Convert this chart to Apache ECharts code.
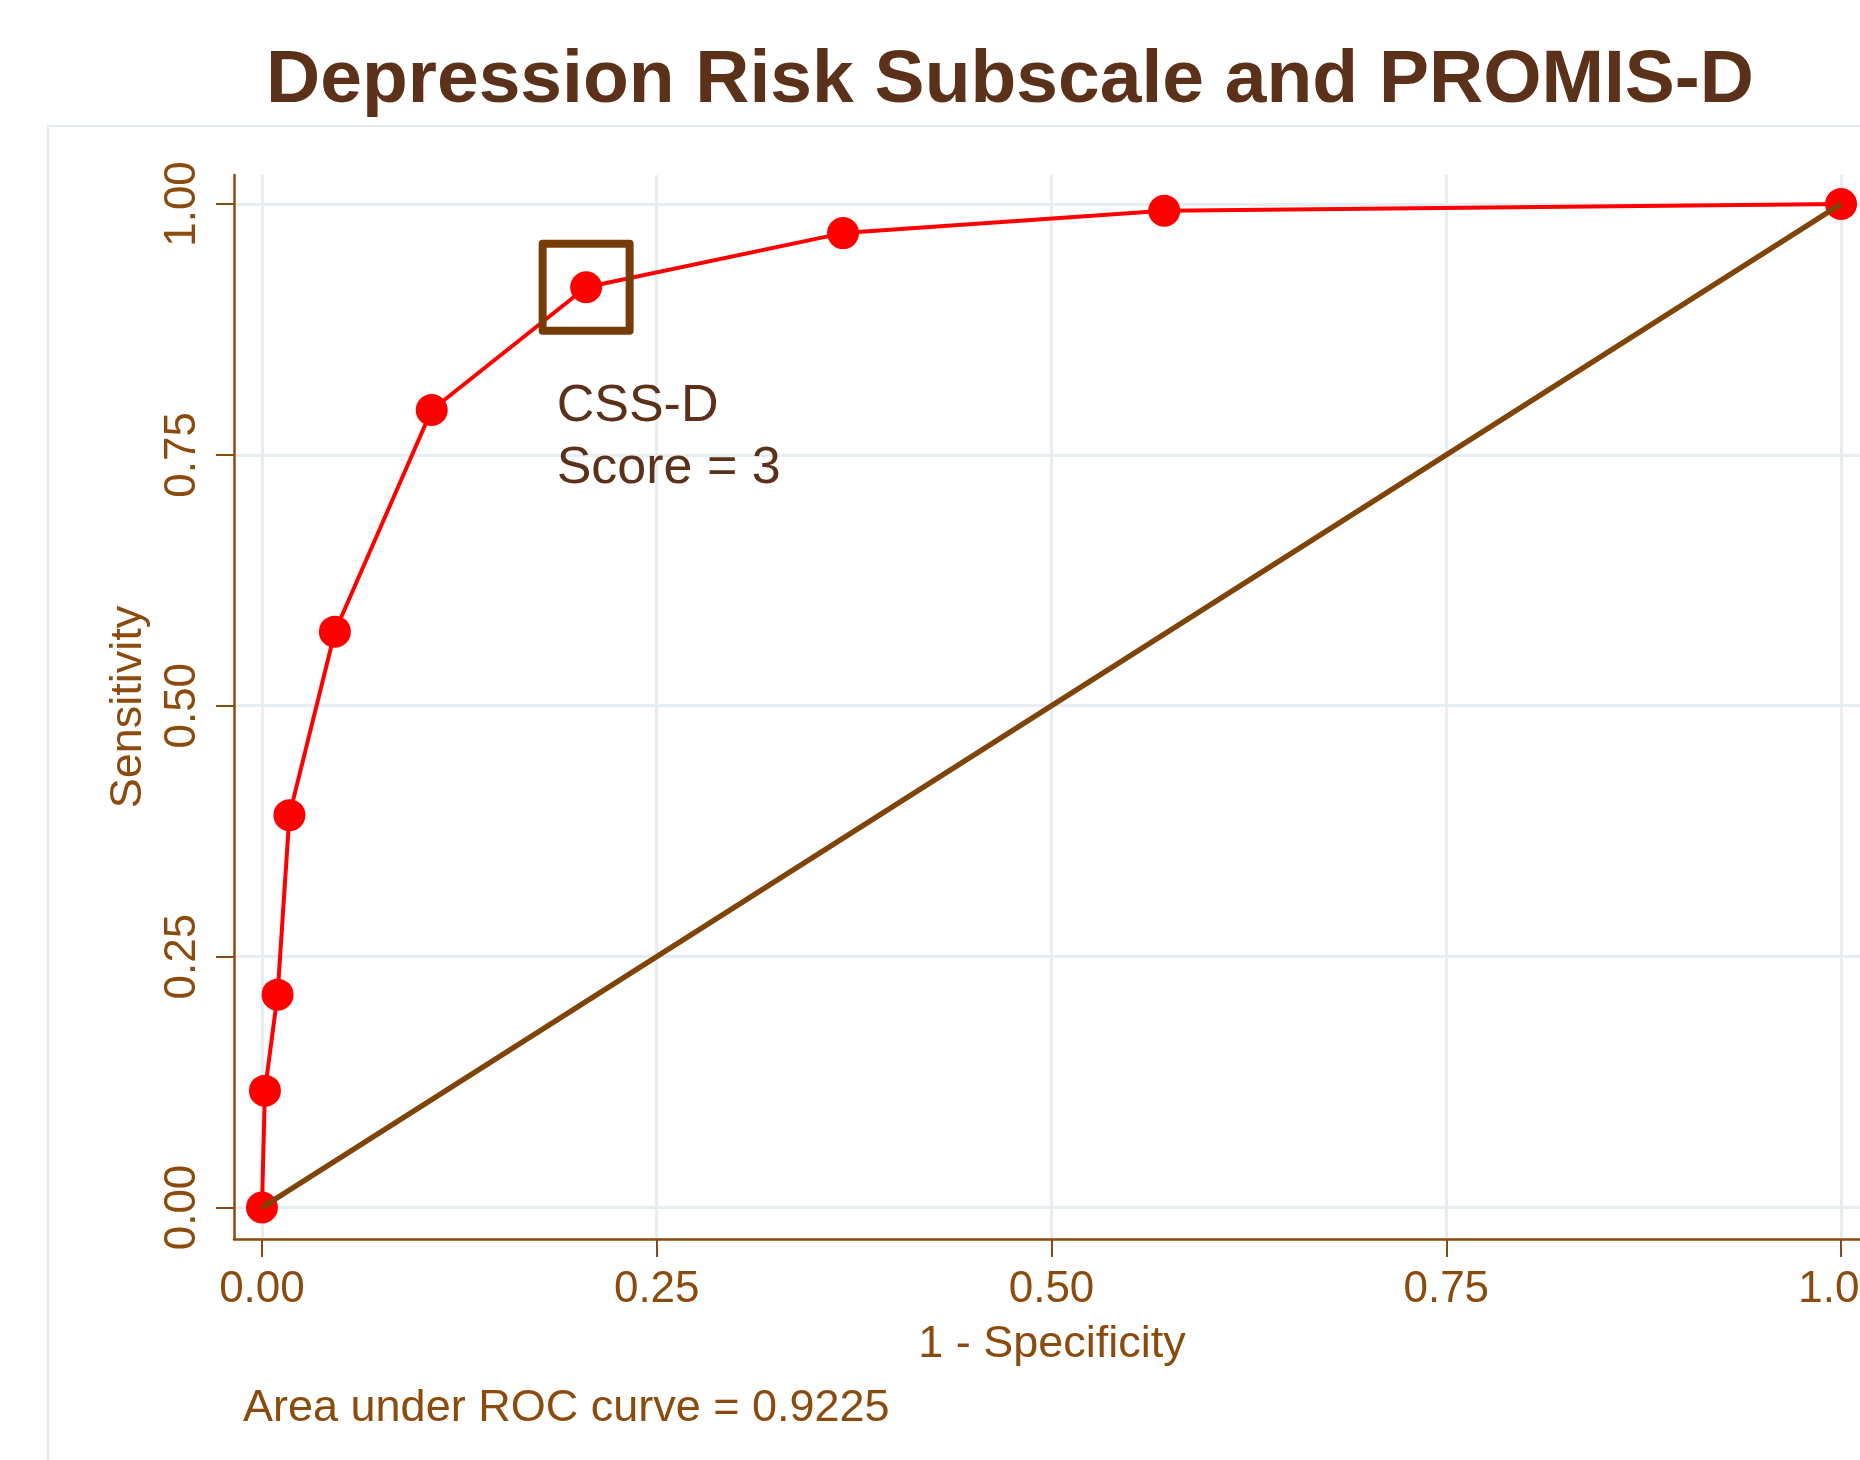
<!DOCTYPE html>
<html>
<head>
<meta charset="utf-8">
<script src="https://cdn.jsdelivr.net/npm/echarts@6/dist/echarts.min.js"></script>
<style>
  html, body { margin: 0; padding: 0; background: #ffffff; }
  #chart { width: 1860px; height: 1460px; }
</style>
</head>
<body>
<div id="chart"></div>
<script>
// ROC points: 1 - specificity (x) and sensitivity (y) at each cut-off
const falsePositiveRate = [0, 0.0019, 0.0099, 0.0174, 0.0462, 0.1075, 0.2053, 0.3680, 0.5714, 1.0];
const sensitivity      = [0, 0.1164, 0.2121, 0.3910, 0.5738, 0.7947, 0.9170, 0.9710, 0.9933, 1.0];
// chance line
const chanceX = [0, 1];
const chanceY = [0, 1];
// tick values shared by both axes
const tickValues = [0, 0.25, 0.5, 0.75, 1];
// highlighted cut-off (CSS-D score of 3)
const cutoffIndex = 6;
const cutoffLabel = ['CSS-D', 'Score = 3'];
const titleText = 'Depression Risk Subscale and PROMIS-D';
const xTitle = '1 - Specificity';
const yTitle = 'Sensitivity';
const aucNote = 'Area under ROC curve = 0.9225';

const FONT = "'Liberation Sans', Arial, Helvetica, sans-serif";
const AXIS_BROWN = '#8b4b0d';
const LINE_BROWN = '#7f4508';
const BOX_BROWN = '#773c08';
const TEXT_DARK = '#5b3219';
const GRID_TINT = '#e7eef2';

const rocData = falsePositiveRate.map((x, i) => [x, sensitivity[i]]);
const chanceData = chanceX.map((x, i) => [x, chanceY[i]]);
const cutoffData = [[falsePositiveRate[cutoffIndex], sensitivity[cutoffIndex]]];

const chart = echarts.init(document.getElementById('chart'), null, { renderer: 'canvas' });

const axisCommon = {
  type: 'value',
  axisLine: { show: true, onZero: false, lineStyle: { color: AXIS_BROWN, width: 2.5 } },
  axisTick: { show: true, inside: false, length: 18, customValues: tickValues, lineStyle: { color: AXIS_BROWN, width: 2 } },
  axisLabel: {
    customValues: tickValues,
    formatter: v => v.toFixed(2),
    color: AXIS_BROWN, fontFamily: FONT, fontSize: 44
  },
  splitLine: { show: true, lineStyle: { color: GRID_TINT, width: 3 } },
  nameLocation: 'middle',
  nameTextStyle: { color: AXIS_BROWN, fontFamily: FONT, fontSize: 45 }
};

chart.setOption({
  animation: false,
  backgroundColor: '#ffffff',
  graphic: [
    {
      type: 'rect', z: -5, silent: true,
      shape: { x: 48, y: 126, width: 1900, height: 1400 },
      style: { fill: '#ffffff', stroke: '#e4ebf0', lineWidth: 2 }
    },
    {
      type: 'text', x: 1010, y: 44,
      style: {
        text: titleText, fill: TEXT_DARK, align: 'center', verticalAlign: 'top',
        font: "bold 75px " + FONT
      }
    },
    {
      type: 'text', x: 243, y: 1386,
      style: {
        text: aucNote, fill: AXIS_BROWN, align: 'left', verticalAlign: 'top',
        font: "45px " + FONT
      }
    }
  ],
  grid: { left: 234, right: 0, top: 175, bottom: 221, containLabel: false, outerBoundsMode: 'none' },
  xAxis: Object.assign({}, axisCommon, {
    min: -0.0177, max: 1.012,
    name: xTitle, nameGap: 83,
    nameTextStyle: Object.assign({}, axisCommon.nameTextStyle, { padding: [0, 0, 0, 10] }),
    axisLabel: Object.assign({}, axisCommon.axisLabel, { margin: 29 })
  }),
  yAxis: Object.assign({}, axisCommon, {
    min: -0.0314, max: 1.0289,
    name: yTitle, nameGap: 83,
    axisLabel: Object.assign({}, axisCommon.axisLabel, { margin: 29, rotate: 90 })
  }),
  series: [
    {
      type: 'line', data: rocData, z: 3,
      symbol: 'circle', symbolSize: 32, showSymbol: true,
      lineStyle: { color: '#ff0000', width: 4 },
      itemStyle: { color: '#ff0000' }
    },
    {
      type: 'line', data: chanceData, z: 4,
      symbol: 'none',
      lineStyle: { color: LINE_BROWN, width: 5.5 }
    },
    {
      type: 'scatter', data: cutoffData, z: 5,
      symbol: 'rect', symbolSize: 87,
      itemStyle: { color: 'rgba(0,0,0,0)', opacity: 1, borderColor: BOX_BROWN, borderWidth: 8, borderJoin: 'round' },
      label: {
        show: true,
        position: [18, 136],
        align: 'left', verticalAlign: 'top',
        formatter: cutoffLabel.join('\n'),
        color: TEXT_DARK, opacity: 1, fontFamily: FONT, fontSize: 52, lineHeight: 62
      }
    }
  ]
});
</script>
</body>
</html>
